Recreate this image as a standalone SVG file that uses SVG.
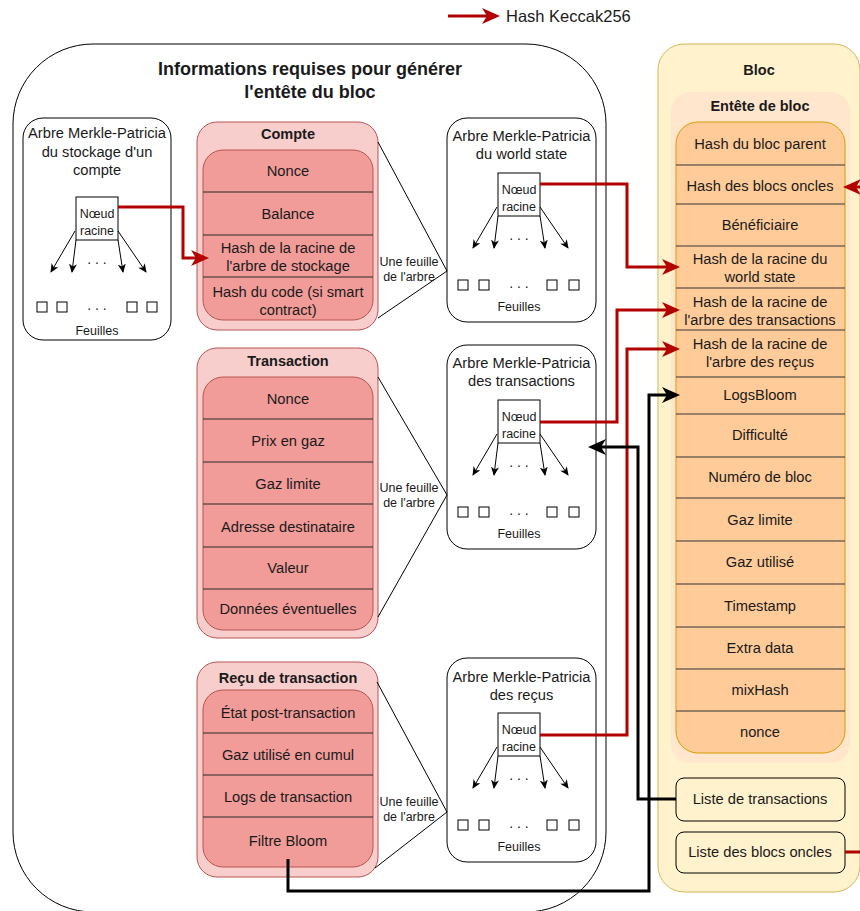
<svg xmlns="http://www.w3.org/2000/svg" width="860" height="911" viewBox="0 0 860 911">
<defs>
<style>
text{font-family:"Liberation Sans",Arial,Helvetica,sans-serif;fill:#1a1a1a;text-anchor:middle}
.t{font-size:14.7px}
.s{font-size:12.5px}
.b{font-size:14.5px;font-weight:bold}
.h{font-size:18px;font-weight:bold}
.dots{font-size:14px}
.box{fill:#fff;stroke:#000;stroke-width:1}
.root{fill:#fff;stroke:#000;stroke-width:1}
.leaf{fill:#fff;stroke:#000;stroke-width:1}
.ta{fill:none;stroke:#000;stroke-width:1;marker-end:url(#arrSmall)}
.pOut{fill:#F8CECC;stroke:#B85450;stroke-width:1}
.pIn{fill:#F19C99;stroke:#B85450;stroke-width:1}
.sep{stroke:#2b2b2b;stroke-width:1}
.hsep{stroke:#333;stroke-width:1}
.leafline{fill:none;stroke:#000;stroke-width:1}
.red{fill:none;stroke:#B20000;stroke-width:3;marker-end:url(#arrRed)}
.blk{fill:none;stroke:#000;stroke-width:3;marker-end:url(#arrBlk)}
.lst{fill:#FFF2CC;stroke:#000;stroke-width:1}
</style>
<marker id="arrRed" markerUnits="userSpaceOnUse" viewBox="0 0 18 16" markerWidth="18" markerHeight="16" refX="12" refY="8" orient="auto"><path d="M0,0 L18,8 L0,16 L5,8 z" fill="#B20000"/></marker>
<marker id="arrBlk" markerUnits="userSpaceOnUse" viewBox="0 0 18 16" markerWidth="18" markerHeight="16" refX="12" refY="8" orient="auto"><path d="M0,0 L18,8 L0,16 L5,8 z" fill="#000"/></marker>
<marker id="arrSmall" markerUnits="userSpaceOnUse" viewBox="0 0 9 8" markerWidth="9" markerHeight="8" refX="8" refY="4" orient="auto"><path d="M0,0 L9,4 L0,8 L2.5,4 z" fill="#000"/></marker>
</defs>

<g id="legend">
<path d="M448,16 H494" class="red"/>
<text x="506" y="22" style="font-size:16.5px;text-anchor:start">Hash Keccak256</text>
</g>

<g id="infos">
<rect x="13" y="44" width="593" height="868" rx="80" ry="80" fill="#fff" stroke="#000" stroke-width="1"/>
<text class="h" x="310" y="75">Informations requises pour générer</text>
<text class="h" x="310" y="98">l'entête du bloc</text>
</g>

<g id="bloc">
<rect x="658" y="44" width="202" height="848" rx="26" ry="26" fill="#FFF2CC" stroke="#D6B656" stroke-width="1"/>
<text class="b" x="759" y="75">Bloc</text>
</g>

<g id="entete">
<rect x="671" y="92" width="179" height="671" rx="20" ry="20" fill="#FFE6CC"/>
<text class="b" x="760" y="111">Entête de bloc</text>
<rect x="676" y="122" width="169" height="631" rx="22" ry="22" fill="#FFCC99" stroke="#D79B00" stroke-width="1"/>
<g>
<line class="hsep" x1="676" y1="165" x2="845" y2="165"/>
<line class="hsep" x1="676" y1="204" x2="845" y2="204"/>
<line class="hsep" x1="676" y1="246" x2="845" y2="246"/>
<line class="hsep" x1="676" y1="288" x2="845" y2="288"/>
<line class="hsep" x1="676" y1="330" x2="845" y2="330"/>
<line class="hsep" x1="676" y1="377" x2="845" y2="377"/>
<line class="hsep" x1="676" y1="414" x2="845" y2="414"/>
<line class="hsep" x1="676" y1="457" x2="845" y2="457"/>
<line class="hsep" x1="676" y1="498" x2="845" y2="498"/>
<line class="hsep" x1="676" y1="541" x2="845" y2="541"/>
<line class="hsep" x1="676" y1="584" x2="845" y2="584"/>
<line class="hsep" x1="676" y1="627" x2="845" y2="627"/>
<line class="hsep" x1="676" y1="669" x2="845" y2="669"/>
<line class="hsep" x1="676" y1="711" x2="845" y2="711"/>
</g>
<text class="t" x="760" y="149">Hash du bloc parent</text>
<text class="t" x="760" y="191">Hash des blocs oncles</text>
<text class="t" x="760" y="230">Bénéficiaire</text>
<text class="t" x="760" y="264">Hash de la racine du</text>
<text class="t" x="760" y="282">world state</text>
<text class="t" x="760" y="307">Hash de la racine de</text>
<text class="t" x="760" y="325">l'arbre des transactions</text>
<text class="t" x="760" y="349">Hash de la racine de</text>
<text class="t" x="760" y="367">l'arbre des reçus</text>
<text class="t" x="760" y="400">LogsBloom</text>
<text class="t" x="760" y="440">Difficulté</text>
<text class="t" x="760" y="482">Numéro de bloc</text>
<text class="t" x="760" y="525">Gaz limite</text>
<text class="t" x="760" y="567">Gaz utilisé</text>
<text class="t" x="760" y="611">Timestamp</text>
<text class="t" x="760" y="653">Extra data</text>
<text class="t" x="760" y="695">mixHash</text>
<text class="t" x="760" y="737">nonce</text>
</g>

<g id="liste-transactions">
<rect class="lst" x="676" y="778" width="169" height="43" rx="8" ry="8"/>
<text class="t" x="760" y="804">Liste de transactions</text>
</g>
<g id="liste-oncles">
<rect class="lst" x="676" y="832" width="169" height="41" rx="8" ry="8"/>
<text class="t" x="760" y="857">Liste des blocs oncles</text>
</g>

<g id="arbre-stockage">
<rect class="box" x="23" y="118" width="148" height="222" rx="20" ry="20"/>
<text class="t" x="97" y="138">Arbre Merkle-Patricia</text>
<text class="t" x="97" y="157">du stockage d'un</text>
<text class="t" x="97" y="175">compte</text>
<g transform="translate(76,197)">
<rect class="root" x="0" y="0" width="42" height="43"/>
<text class="s" x="21" y="20.5">Nœud</text>
<text class="s" x="21" y="37.5">racine</text>
<path class="ta" d="M-1,34 L-25,75"/><path class="ta" d="M0,43 L-4,75"/><path class="ta" d="M42,43 L47,75"/><path class="ta" d="M42,34 L70,75"/>
<text class="dots" x="21" y="67">. . .</text>
<rect class="leaf" x="-39" y="105" width="10" height="10"/><rect class="leaf" x="-19" y="105" width="10" height="10"/>
<rect class="leaf" x="51" y="105" width="10" height="10"/><rect class="leaf" x="71" y="105" width="10" height="10"/>
<text class="dots" x="21" y="113">. . .</text>
<text class="s" x="21" y="137.5">Feuilles</text>
</g>
</g>

<g id="compte">
<rect class="pOut" x="197" y="122" width="181" height="208" rx="20" ry="20"/>
<text class="b" x="288" y="139">Compte</text>
<rect class="pIn" x="203" y="150" width="170" height="170" rx="20" ry="20"/>
<line class="sep" x1="203" y1="192" x2="373" y2="192"/>
<line class="sep" x1="203" y1="235" x2="373" y2="235"/>
<line class="sep" x1="203" y1="277" x2="373" y2="277"/>
<text class="t" x="288" y="176">Nonce</text>
<text class="t" x="288" y="219">Balance</text>
<text class="t" x="288" y="253">Hash de la racine de</text>
<text class="t" x="288" y="271">l'arbre de stockage</text>
<text class="t" x="288" y="297">Hash du code (si smart</text>
<text class="t" x="288" y="315">contract)</text>
</g>

<g id="arbre-world-state">
<rect class="box" x="447" y="118" width="149" height="204" rx="20" ry="20"/>
<text class="t" x="521.5" y="141">Arbre Merkle-Patricia</text>
<text class="t" x="521.5" y="159">du world state</text>
<g transform="translate(498,173)">
<rect class="root" x="0" y="0" width="42" height="43"/>
<text class="s" x="21" y="20.5">Nœud</text>
<text class="s" x="21" y="37.5">racine</text>
<path class="ta" d="M-1,34 L-25,75"/><path class="ta" d="M0,43 L-4,75"/><path class="ta" d="M42,43 L47,75"/><path class="ta" d="M42,34 L70,75"/>
<text class="dots" x="21" y="67">. . .</text>
<rect class="leaf" x="-40" y="107" width="10" height="10"/><rect class="leaf" x="-19" y="107" width="10" height="10"/>
<rect class="leaf" x="49" y="107" width="10" height="10"/><rect class="leaf" x="71" y="107" width="10" height="10"/>
<text class="dots" x="21" y="115">. . .</text>
<text class="s" x="21" y="137.5">Feuilles</text>
</g>
</g>

<g id="transaction">
<rect class="pOut" x="197" y="348" width="181" height="290" rx="20" ry="20"/>
<text class="b" x="288" y="366">Transaction</text>
<rect class="pIn" x="203" y="377" width="170" height="253" rx="20" ry="20"/>
<line class="sep" x1="203" y1="419" x2="373" y2="419"/>
<line class="sep" x1="203" y1="462" x2="373" y2="462"/>
<line class="sep" x1="203" y1="504" x2="373" y2="504"/>
<line class="sep" x1="203" y1="547" x2="373" y2="547"/>
<line class="sep" x1="203" y1="589" x2="373" y2="589"/>
<text class="t" x="288" y="404">Nonce</text>
<text class="t" x="288" y="446">Prix en gaz</text>
<text class="t" x="288" y="489">Gaz limite</text>
<text class="t" x="288" y="532">Adresse destinataire</text>
<text class="t" x="288" y="573">Valeur</text>
<text class="t" x="288" y="614">Données éventuelles</text>
</g>

<g id="arbre-transactions">
<rect class="box" x="447" y="345" width="149" height="204" rx="20" ry="20"/>
<text class="t" x="521.5" y="368">Arbre Merkle-Patricia</text>
<text class="t" x="521.5" y="386">des transactions</text>
<g transform="translate(498,400)">
<rect class="root" x="0" y="0" width="42" height="43"/>
<text class="s" x="21" y="20.5">Nœud</text>
<text class="s" x="21" y="37.5">racine</text>
<path class="ta" d="M-1,34 L-25,75"/><path class="ta" d="M0,43 L-4,75"/><path class="ta" d="M42,43 L47,75"/><path class="ta" d="M42,34 L70,75"/>
<text class="dots" x="21" y="67">. . .</text>
<rect class="leaf" x="-40" y="107" width="10" height="10"/><rect class="leaf" x="-19" y="107" width="10" height="10"/>
<rect class="leaf" x="49" y="107" width="10" height="10"/><rect class="leaf" x="71" y="107" width="10" height="10"/>
<text class="dots" x="21" y="115">. . .</text>
<text class="s" x="21" y="137.5">Feuilles</text>
</g>
</g>

<g id="recu">
<rect class="pOut" x="197" y="662" width="181" height="215" rx="20" ry="20"/>
<text class="b" x="288" y="683">Reçu de transaction</text>
<rect class="pIn" x="203" y="690" width="170" height="177" rx="20" ry="20"/>
<line class="sep" x1="203" y1="733" x2="373" y2="733"/>
<line class="sep" x1="203" y1="775" x2="373" y2="775"/>
<line class="sep" x1="203" y1="817" x2="373" y2="817"/>
<text class="t" x="288" y="718">État post-transaction</text>
<text class="t" x="288" y="760">Gaz utilisé en cumul</text>
<text class="t" x="288" y="802">Logs de transaction</text>
<text class="t" x="288" y="846">Filtre Bloom</text>
</g>

<g id="arbre-recus">
<rect class="box" x="447" y="658" width="149" height="204" rx="20" ry="20"/>
<text class="t" x="521.5" y="682">Arbre Merkle-Patricia</text>
<text class="t" x="521.5" y="700">des reçus</text>
<g transform="translate(498,713)">
<rect class="root" x="0" y="0" width="42" height="43"/>
<text class="s" x="21" y="20.5">Nœud</text>
<text class="s" x="21" y="37.5">racine</text>
<path class="ta" d="M-1,34 L-25,75"/><path class="ta" d="M0,43 L-4,75"/><path class="ta" d="M42,43 L47,75"/><path class="ta" d="M42,34 L70,75"/>
<text class="dots" x="21" y="67">. . .</text>
<rect class="leaf" x="-40" y="107" width="10" height="10"/><rect class="leaf" x="-19" y="107" width="10" height="10"/>
<rect class="leaf" x="49" y="107" width="10" height="10"/><rect class="leaf" x="71" y="107" width="10" height="10"/>
<text class="dots" x="21" y="115">. . .</text>
<text class="s" x="21" y="137.5">Feuilles</text>
</g>
</g>

<g id="connectors">
<path class="leafline" d="M378,142 L447,271 M378,318 L447,271"/>
<text class="s" x="409" y="266">Une feuille</text>
<text class="s" x="409" y="281">de l'arbre</text>
<path class="leafline" d="M378,377 L447,495 M378,617 L447,495"/>
<text class="s" x="409" y="492">Une feuille</text>
<text class="s" x="409" y="507">de l'arbre</text>
<path class="leafline" d="M377,682 L447,812 M375,868 L447,812"/>
<text class="s" x="409" y="806">Une feuille</text>
<text class="s" x="409" y="821">de l'arbre</text>

<path class="red" d="M118,207 H183 V258 H203"/>
<path class="red" d="M540,184 H627 V267 H674"/>
<path class="red" d="M540,422 H617 V310 H674"/>
<path class="red" d="M540,735 H627 V349 H674"/>
<path class="red" d="M845,852 H868 V187 H849"/>

<path class="blk" d="M288,859 V891 H649 V395 H674"/>
<path class="blk" d="M676,799 H638 V447 H594"/>
</g>
</svg>
